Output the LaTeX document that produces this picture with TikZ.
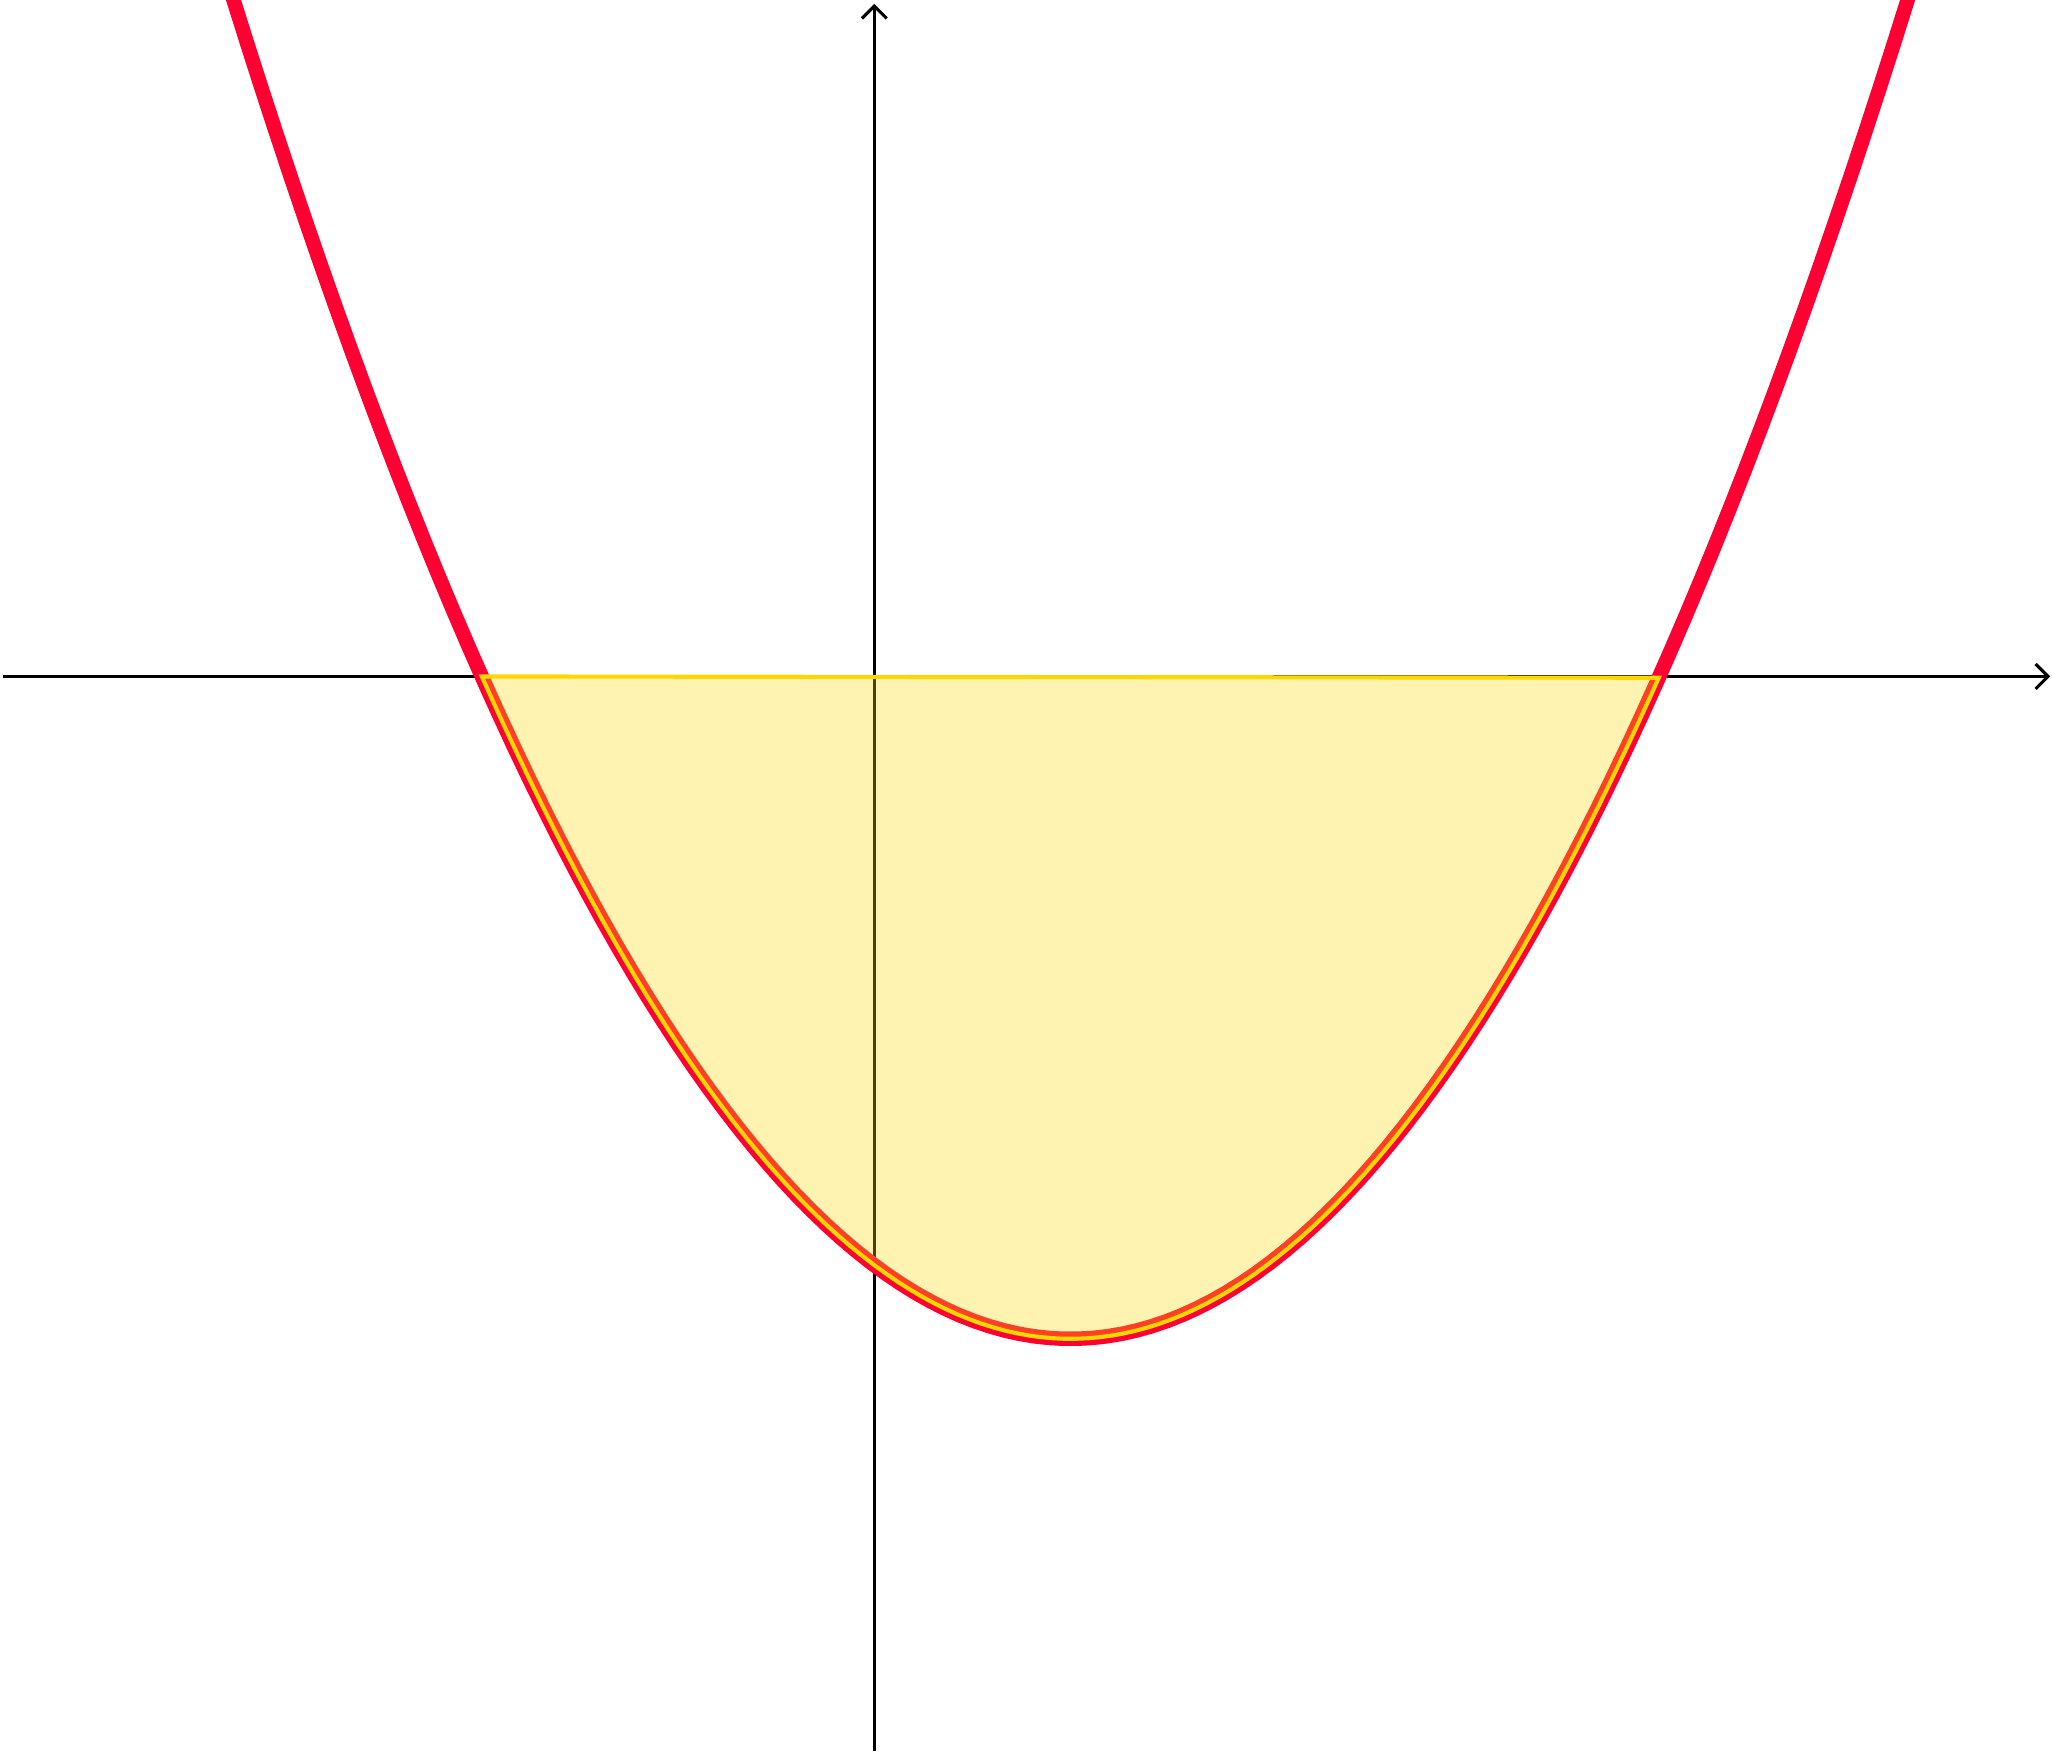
\documentclass[tikz,border=0pt]{standalone}
\usetikzlibrary{arrows.meta}
\definecolor{curvered}{RGB}{255,0,51}
\definecolor{areagold}{RGB}{255,215,0}

\begin{document}
\begin{tikzpicture}[
    x=2cm, y=1.5cm,
    axis/.style={-{Straight Barb[length=1.8pt,width=3.6pt]}, line width=0.45pt},
    curve/.style={curvered, line width=2.1pt},
    region/.style={
        draw=areagold, fill=areagold, fill opacity=0.3,
        line width=0.6pt, line join=miter
    }
]
\useasboundingbox (-2.2275,-3.651) rectangle (3.0005,2.298);
\clip (-2.2275,-3.651) rectangle (3.0005,2.298);

\coordinate (xstart) at (-2.221,0);
\coordinate (xend)   at (2.996,0);
\coordinate (ystart) at (0,-3.651);
\coordinate (yend)   at (0,2.285);

\draw[axis] (xstart) -- (xend);
\draw[axis] (ystart) -- (yend);

\draw[curve] plot[domain=-1.75:2.75,samples=120] (\x,{\x*\x-\x-2});

\draw[region] plot[domain=-1:2,samples=100] (\x,{\x*\x-\x-2}) -- cycle;
\end{tikzpicture}
\end{document}
